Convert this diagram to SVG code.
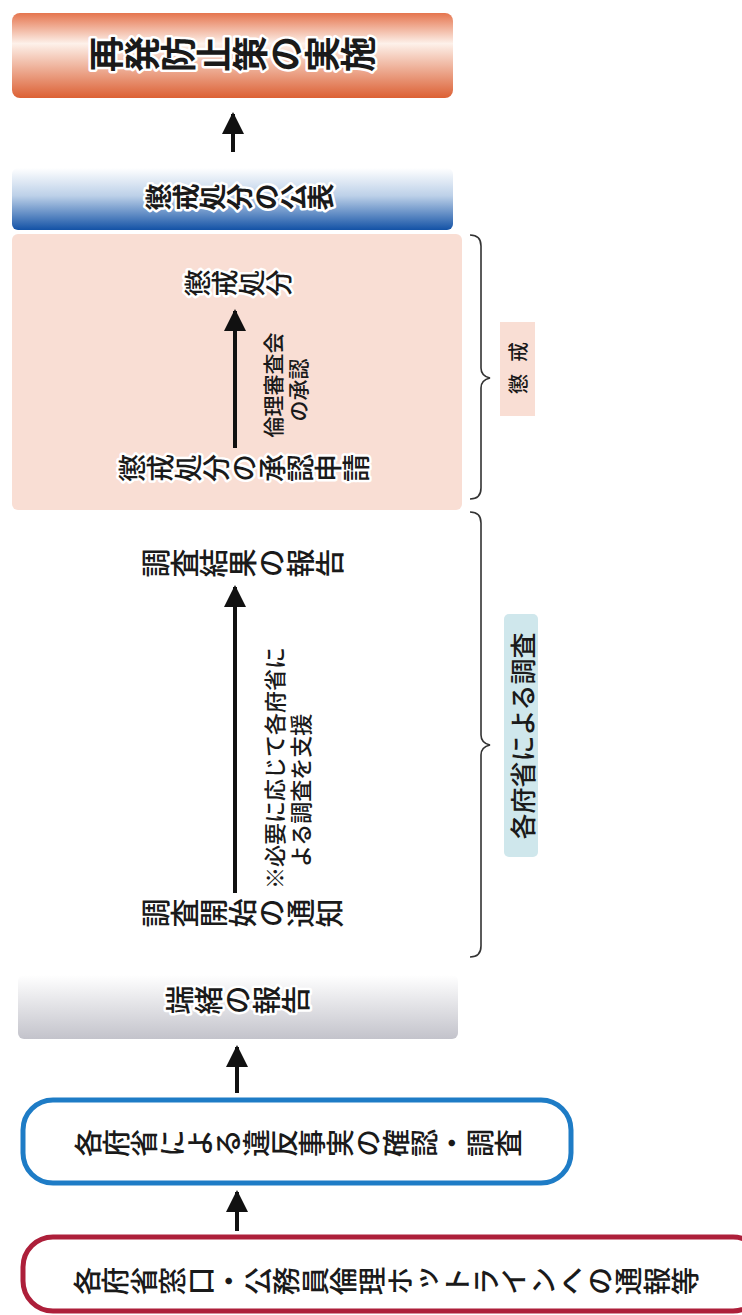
<svg xmlns="http://www.w3.org/2000/svg" width="742" height="1315" viewBox="0 0 742 1315">
<style>
text{font-family:"Noto Sans CJK JP","Noto Sans CJK SC",sans-serif;fill:#1a1a1a;}
.v{writing-mode:vertical-rl;text-anchor:middle;font-weight:500;}
.h{text-anchor:middle;dominant-baseline:central;font-weight:500;}
.halo{stroke:#ffffff;stroke-width:5;stroke-linejoin:round;paint-order:stroke;}
.b{font-weight:700;}
.conn{stroke:#111;stroke-width:4;fill:none;}
.brace{stroke:#333;stroke-width:1.6;fill:none;}
</style>
<defs>
<linearGradient id="gOrange" x1="0" y1="0" x2="0" y2="1">
<stop offset="0" stop-color="#e5754e"/>
<stop offset="0.36" stop-color="#fdf1ea"/>
<stop offset="1" stop-color="#dc6034"/>
</linearGradient>
<linearGradient id="gBlue" x1="0" y1="0" x2="0" y2="1">
<stop offset="0" stop-color="#ffffff"/>
<stop offset="0.45" stop-color="#bcd0e8"/>
<stop offset="1" stop-color="#1352a6"/>
</linearGradient>
<linearGradient id="gGray" x1="0" y1="0" x2="0" y2="1">
<stop offset="0" stop-color="#ffffff"/>
<stop offset="1" stop-color="#c3c3cb"/>
</linearGradient>
<marker id="ah" markerUnits="userSpaceOnUse" markerWidth="22" markerHeight="24" refX="20" refY="11" orient="auto">
<path d="M0,0 L22,11 L0,22 Z" fill="#111"/>
</marker>
</defs>
<rect width="742" height="1315" fill="#ffffff"/>

<g id="node-saihatsu">
<rect x="12" y="13" width="441" height="85" rx="8" fill="url(#gOrange)"/>
<text class="v b halo" transform="translate(232,54) rotate(-90)" font-size="36">再発防止策の実施</text>
</g>

<g id="node-kohyo">
<rect x="12" y="168" width="441" height="62" rx="6" fill="url(#gBlue)"/>
<text class="v b halo" transform="translate(240,197) rotate(-90)" font-size="27">懲戒処分の公表</text>
</g>

<g id="node-chokai-area">
<rect x="12" y="234" width="450" height="276" rx="6" fill="#f9ded4"/>
</g>

<g id="node-chokai-shobun">
<text class="v halo" transform="translate(238,283) rotate(-90)" font-size="27">懲戒処分</text>
</g>

<g id="node-shonin-shinsei">
<text class="v halo" transform="translate(244,468) rotate(-90)" font-size="28">懲戒処分の承認申請</text>
</g>

<g id="node-kekka">
<text class="v" transform="translate(243,563) rotate(-90)" font-size="29">調査結果の報告</text>
</g>

<g id="node-kaishi">
<text class="v" transform="translate(243,913) rotate(-90)" font-size="29">調査開始の通知</text>
</g>

<g id="node-tansho">
<rect x="18" y="975" width="440" height="64" rx="6" fill="url(#gGray)"/>
<text class="v halo" transform="translate(238,1000) rotate(-90)" font-size="29">端緒の報告</text>
</g>

<g id="node-kakunin">
<rect x="23" y="1100" width="548" height="83" rx="30" fill="#ffffff" stroke="#1e7cc6" stroke-width="5"/>
<text class="v" transform="translate(298,1143) rotate(-90)" font-size="28">各府省による違反事実の確認・調査</text>
</g>

<g id="node-tsuho">
<rect x="23" y="1237" width="740" height="74" rx="30" fill="#ffffff" stroke="#ad1f3a" stroke-width="5"/>
<text class="v" transform="translate(386,1281) rotate(-90)" font-size="28.5">各府省窓口・公務員倫理ホットラインへの通報等</text>
</g>

<g id="label-chokai">
<rect x="500" y="322" width="35" height="94" fill="#f9ded4"/>
<text class="h" transform="translate(517,362) rotate(-90)" font-size="20" letter-spacing="12">懲戒</text>
</g>

<g id="label-chosa">
<rect x="504" y="614" width="34" height="243" rx="5" fill="#cfe7ec"/>
<text class="h" transform="translate(521,736) rotate(-90)" font-size="26">各府省による調査</text>
</g>

<g id="connectors">
<line class="conn" x1="233" y1="152" x2="233" y2="114" marker-end="url(#ah)"/>
<line class="conn" x1="235" y1="448" x2="235" y2="311" marker-end="url(#ah)"/>
<line class="conn" x1="235" y1="893" x2="235" y2="587" marker-end="url(#ah)"/>
<line class="conn" x1="237" y1="1093" x2="237" y2="1047" marker-end="url(#ah)"/>
<line class="conn" x1="237" y1="1231" x2="237" y2="1192" marker-end="url(#ah)"/>
<path class="brace" d="M470,235 Q481,235 481,246 L481,368 Q481,376 490,378 Q481,380 481,388 L481,488 Q481,499 470,499"/>
<path class="brace" d="M470,512 Q481,512 481,523 L481,735 Q481,743 490,745 Q481,747 481,755 L481,946 Q481,957 470,957"/>
</g>

<g id="edge-labels">
<text class="h" transform="translate(272,385) rotate(-90)" font-size="21">倫理審査会</text>
<text class="h" transform="translate(297,390) rotate(-90)" font-size="21">の承認</text>
<text style="dominant-baseline:central;font-weight:500" transform="translate(273,889) rotate(-90)" font-size="22">※必要に応じて各府省に</text>
<text style="dominant-baseline:central;font-weight:500" transform="translate(299,867) rotate(-90)" font-size="22">よる調査を支援</text>
</g>
</svg>
